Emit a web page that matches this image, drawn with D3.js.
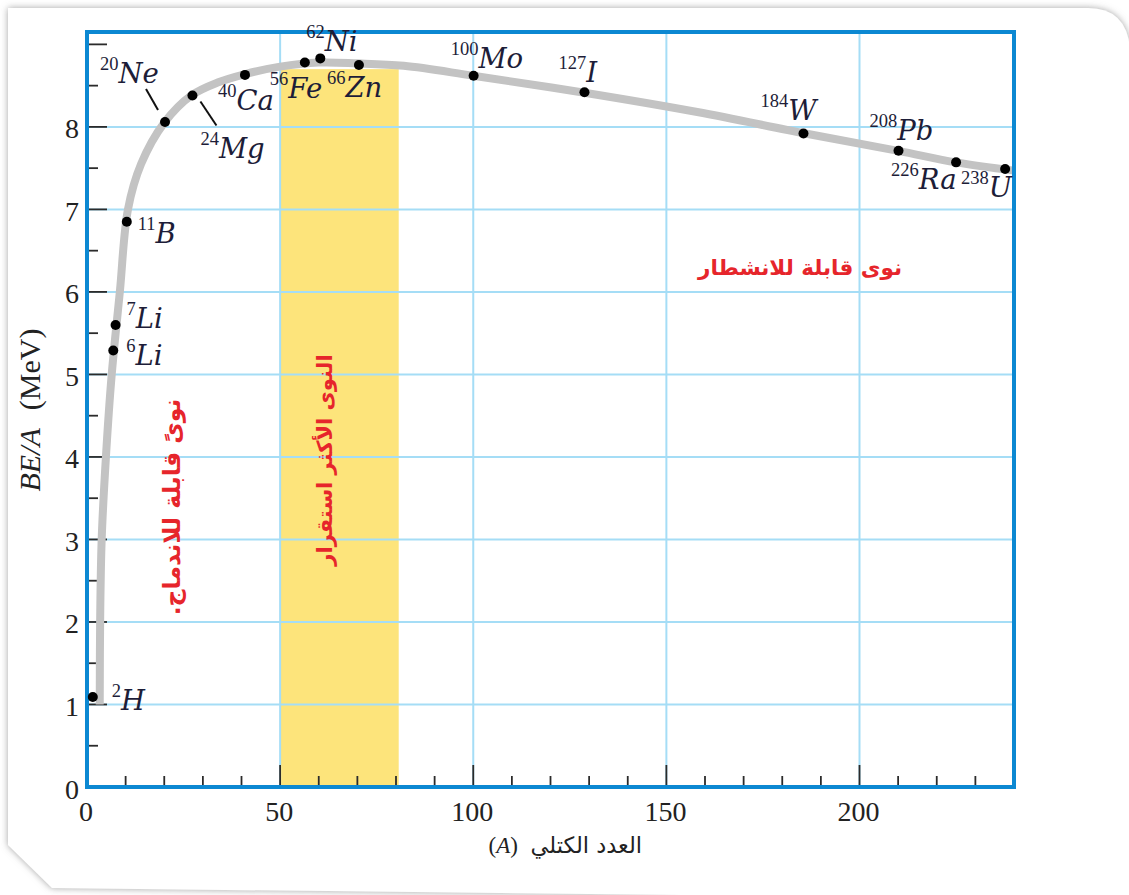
<!DOCTYPE html>
<html><head><meta charset="utf-8">
<script src="https://cdn.jsdelivr.net/npm/d3@7"></script>
<style>html,body{margin:0;padding:0;background:#fff;}svg{display:block;}</style>
</head><body>
<svg id="chart" width="1129" height="895"></svg>
<script>
// ---- data ----
const elements = ["H","Li","Li","B","Ne","Mg","Ca","Fe","Ni","Zn","Mo","I","W","Pb","Ra","U"];
const massNumbers = ["2","6","7","11","20","24","40","56","62","66","100","127","184","208","226","238"];
const plotA = [1.5,6.8,7.4,10.3,20.2,27.3,40.9,56.4,60.4,70.4,100.1,128.8,185.5,210.1,225,237.7];
const bePerNucleon = [1.09,5.29,5.6,6.85,8.06,8.38,8.63,8.78,8.83,8.75,8.62,8.42,7.92,7.71,7.57,7.49];
const curveA  = [3.3,3.4,3.8,4.9,6.4,8.5,10.6,14,20,27,34,41,50,60,70,82,100,128,158,186,210,225,240];
const curveBE = [1.0,2.0,3.0,4.0,5.0,6.0,7.0,7.55,8.05,8.38,8.54,8.64,8.73,8.78,8.77,8.74,8.62,8.42,8.18,7.92,7.71,7.57,7.47];
const stableBand = [50, 80.7];
const stableBandTop = 8.7;
const xTickLabels = [0,50,100,150,200];
const yTickLabels = [0,1,2,3,4,5,6,7,8];
const xTitleArabic = "العدد الكتلي";
const xTitleVar = "A";
const yTitleVar = "BE/A";
const yTitleUnit = "(MeV)";
const fusionLabel = "نوىً قابلة للاندماج.";
const fissionLabel = "نوى قابلة للانشطار";
const stableLabel = "النوى الأكثر استقرار";

// ---- layout (pixel offsets for labels, not data) ----
// [dx from point to superscript start, dy from point to symbol baseline]
const labelOffsets = [[19,13],[13,14],[11,3],[11,21],[-65,-39],[8,62],[-27,35],[-35,35],[-14,-7],[-32,32],[-23,-8],[-26,-10],[-43,-13],[-29,-11],[-65,27],[-44,28]];
const leaders = {4:[[-19,-33],[-7,-12]], 5:[[8,6],[24,30]]};

const svg = d3.select("#chart");
const m = {left:87, right:1014, top:32, bottom:787};
const x = d3.scaleLinear().domain([0,240]).range([m.left, m.right]);
const y = d3.scaleLinear().domain([0,9.15]).range([m.bottom, m.top]);

// card with shadow
const defs = svg.append("defs");
const f = defs.append("filter").attr("id","sh").attr("x","-5%").attr("y","-5%").attr("width","110%").attr("height","110%");
f.append("feDropShadow").attr("dx",0).attr("dy",0).attr("stdDeviation",3.5).attr("flood-color","#9a9a9a").attr("flood-opacity",0.9);
svg.append("path")
  .attr("d","M8,8 L1088,8 Q1126,8 1130,48 L1134,900 L52,888 L8,845 Z")
  .attr("fill","#fff").attr("filter","url(#sh)");

const serif = "'Liberation Serif','Times New Roman',serif";
const dserif = "'DejaVu Serif',serif";
const arab = "'DejaVu Sans',sans-serif";
const red = "#e6252b";
const ink = "#1d1d38";

// stable band
svg.append("rect")
  .attr("x", x(stableBand[0])).attr("width", x(stableBand[1]) - x(stableBand[0]))
  .attr("y", y(stableBandTop)).attr("height", y(0) - y(stableBandTop))
  .attr("fill","#fde47b");

// grid
const gridCol = "#a5ddf6";
svg.append("g").selectAll("line").data(d3.range(1,9)).join("line")
  .attr("x1", m.left).attr("x2", m.right).attr("y1", d=>y(d)).attr("y2", d=>y(d))
  .attr("stroke", gridCol).attr("stroke-width", 2);
svg.append("g").selectAll("line").data([50,100,150,200]).join("line")
  .attr("y1", m.top).attr("y2", m.bottom).attr("x1", d=>x(d)).attr("x2", d=>x(d))
  .attr("stroke", gridCol).attr("stroke-width", 2);

// ticks
const tickCol = "#2b2b2b";
svg.append("g").selectAll("line").data(d3.range(0.5,9.01,0.5)).join("line")
  .attr("x1", m.left).attr("x2", d=> m.left + (Number.isInteger(d)?20:11))
  .attr("y1", d=>y(d)).attr("y2", d=>y(d)).attr("stroke", tickCol).attr("stroke-width", 1.8);
svg.append("g").selectAll("line").data(d3.range(10,240,10)).join("line")
  .attr("y1", m.bottom).attr("y2", d=> m.bottom - (d%50===0?22:11))
  .attr("x1", d=>x(d)).attr("x2", d=>x(d)).attr("stroke", tickCol).attr("stroke-width", 1.8);

// tick labels
svg.append("g").selectAll("text").data(yTickLabels).join("text")
  .attr("x", 79).attr("y", d=>y(d)+2).attr("text-anchor","end").attr("dominant-baseline","central")
  .attr("font-family", serif).attr("font-size", 28).attr("fill","#222").text(d=>d);
svg.append("g").selectAll("text").data(xTickLabels).join("text")
  .attr("x", d=>x(d)-1).attr("y", 821).attr("text-anchor","middle")
  .attr("font-family", serif).attr("font-size", 28).attr("fill","#222").text(d=>d);

// curve
const line = d3.line().x((d)=>x(d[0])).y(d=>y(d[1])).curve(d3.curveCatmullRom.alpha(0.5));
svg.append("path").datum(curveA.map((a,i)=>[a,curveBE[i]]))
  .attr("d", line).attr("fill","none").attr("stroke","#c3c3c3").attr("stroke-width",8);

// frame
svg.append("rect").attr("x", m.left).attr("y", m.top).attr("width", m.right-m.left).attr("height", m.bottom-m.top)
  .attr("fill","none").attr("stroke","#0c88d2").attr("stroke-width",4);

// points
svg.append("g").selectAll("circle").data(plotA).join("circle")
  .attr("cx", d=>x(d)).attr("cy", (d,i)=>y(bePerNucleon[i])).attr("r",5).attr("fill","#000");

// leader lines
Object.entries(leaders).forEach(([i, seg])=>{
  const px = x(plotA[i]), py = y(bePerNucleon[i]);
  svg.append("line").attr("x1",px+seg[0][0]).attr("y1",py+seg[0][1]).attr("x2",px+seg[1][0]).attr("y2",py+seg[1][1])
    .attr("stroke","#111").attr("stroke-width",2);
});

// element labels
elements.forEach((el,i)=>{
  const px = x(plotA[i]) + labelOffsets[i][0], py = y(bePerNucleon[i]) + labelOffsets[i][1];
  const t = svg.append("text").attr("x", px).attr("y", py).attr("fill", ink);
  t.append("tspan").attr("font-family", serif).attr("font-size", 18.5).attr("dy",-13).text(massNumbers[i]);
  t.append("tspan").attr("font-family", dserif).attr("font-style","italic").attr("font-size", 27.5).attr("dy",13).text(el);
});

// axis titles
svg.append("text").attr("x", 642).attr("y", 853).attr("text-anchor","end")
  .attr("font-family", arab).attr("font-size", 22.5).attr("fill","#222").text(xTitleArabic);
const xt = svg.append("text").attr("x", 518).attr("y", 853).attr("text-anchor","end")
  .attr("font-family", serif).attr("font-size", 23).attr("fill","#222");
xt.append("tspan").text("(");
xt.append("tspan").attr("font-style","italic").text(xTitleVar);
xt.append("tspan").text(")");

const yt = svg.append("text").attr("transform","translate(40,410) rotate(-90)").attr("text-anchor","middle")
  .attr("font-family", serif).attr("font-size", 30).attr("fill","#222");
yt.append("tspan").attr("font-style","italic").text(yTitleVar);
yt.append("tspan").attr("dx",18).text(yTitleUnit);

// red annotations
function redText(tf, size, txt){
  svg.append("text").attr("transform", tf).attr("text-anchor","middle").attr("dominant-baseline","central")
    .attr("direction","rtl").style("unicode-bidi","embed")
    .attr("font-family", arab).attr("font-weight","bold").attr("font-size", size).attr("fill", red).text(txt);
}
redText("translate(800,267)", 21.5, fissionLabel);
redText("translate(172,507) rotate(-90)", 23.5, fusionLabel);
redText("translate(325,460) rotate(-90)", 21, stableLabel);
</script>
</body></html>
